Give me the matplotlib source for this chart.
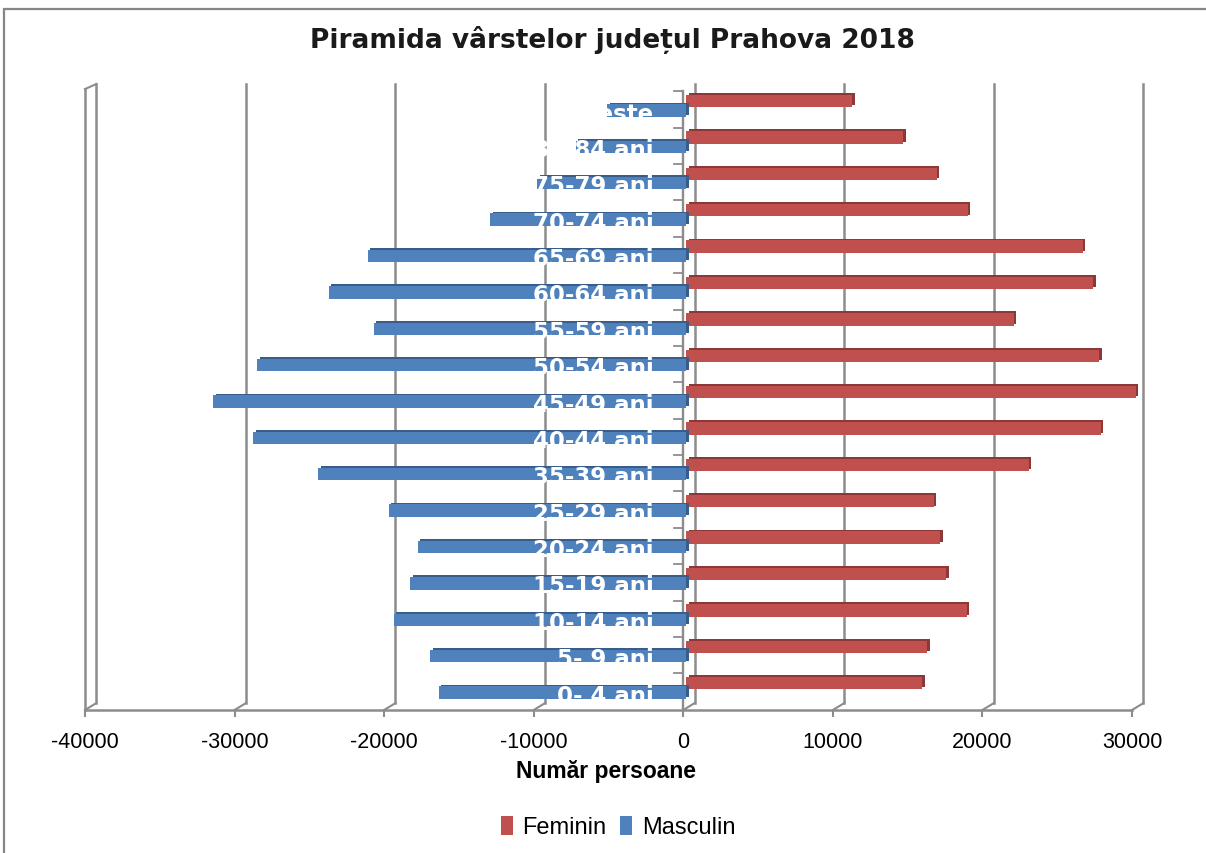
import matplotlib
matplotlib.use("Agg")
import matplotlib.pyplot as plt
from matplotlib.patches import Rectangle, Patch
import numpy as np

# ---- data (bottom to top) ----
categories = ["0- 4 ani", "5- 9 ani", "10-14 ani", "15-19 ani", "20-24 ani", "25-29 ani",
              "35-39 ani", "40-44 ani", "45-49 ani", "50-54 ani", "55-59 ani", "60-64 ani",
              "65-69 ani", "70-74 ani", "75-79 ani", "80-84 ani", "85 și peste"]
feminin = [15780, 16090, 18750, 17380, 16980, 16550, 22900, 27700, 30050, 27600,
           21900, 27200, 26500, 18800, 16750, 14500, 11100]
masculin = [16550, 17130, 19550, 18450, 17950, 19890, 24620, 28950, 31620, 28690,
            20890, 23890, 21290, 13110, 9950, 7400, 5300]
xticks = [-40000, -30000, -20000, -10000, 0, 10000, 20000, 30000]
title = "Piramida vârstelor județul Prahova 2018"
xlabel = "Număr persoane"

RED = "#c0504d"; RED_D = "#8c3836"
BLUE = "#4f81bd"; BLUE_D = "#385d8a"
GRID = "#8c8c8c"

W, H = 1206, 854
fig = plt.figure(figsize=(W / 100, H / 100), dpi=100)
fig.patch.set_facecolor("white")

# outer chart frame
fig.patches.append(Rectangle((4 / W, -0.05), 1.2, (H - 10) / H + 0.05, transform=fig.transFigure,
                             fill=False, edgecolor="#868686", lw=1.6))

ax = fig.add_axes([70 / W, (H - 711) / H, 1080 / W, 626 / H])
ax.set_xlim(-41000, 31200)
ax.set_ylim(-0.61, 16.6)
for s in ax.spines.values():
    s.set_visible(False)
ax.set_yticks([])

# back wall gridlines with 3D floor diagonals
DX = 760      # depth offset in x (style)
Y_BACK = -0.42
Y_FRONT = -0.61
for t in xticks:
    ax.plot([t + DX, t + DX], [Y_BACK, 16.6], color=GRID, lw=1.8, zorder=1, clip_on=False)
    ax.plot([t + DX, t], [Y_BACK, Y_FRONT], color=GRID, lw=1.5, zorder=1, clip_on=False)
# left wall front edge
ax.plot([xticks[0], xticks[0]], [Y_FRONT, 16.46], color=GRID, lw=1.8, zorder=1, clip_on=False)
ax.plot([xticks[0], xticks[0] + DX], [16.46, 16.6], color=GRID, lw=1.5, zorder=1, clip_on=False)

# front axis line + ticks
ax.spines["bottom"].set_visible(True)
ax.spines["bottom"].set_bounds(xticks[0], xticks[-1])
ax.spines["bottom"].set_color(GRID)
ax.spines["bottom"].set_linewidth(1.8)
ax.set_xticks(xticks)
ax.set_xticklabels([str(t) for t in xticks], fontsize=15.5, family="Liberation Sans", color="black")
ax.tick_params(axis="x", direction="out", length=5, width=1.5, color=GRID, pad=10)

# category axis (vertical line at 0) with small ticks
ax.plot([0, 0], [Y_FRONT, 16.42], color=GRID, lw=1.7, zorder=2)
ypos = np.arange(len(categories))
for y in ypos:
    ax.plot([-650, 0], [y + 0.4, y + 0.4], color=GRID, lw=1.3, zorder=2)

SH = 200      # small depth shift of bar faces (style)
BH = 0.34
OFF = 0.13
TOPX = 170
TOPY = 0.05

fem = np.array(feminin, dtype=float)
mas = np.array(masculin, dtype=float)

# red bars: darker top/side face then front face
ax.barh(ypos + OFF + TOPY, fem, left=SH + TOPX, height=BH, color=RED_D, zorder=3)
ax.barh(ypos + OFF, fem, left=SH, height=BH, color=RED, zorder=4)
# blue bars
ax.barh(ypos - OFF + TOPY, -mas, left=SH + TOPX, height=BH, color=BLUE_D, zorder=5)
ax.barh(ypos - OFF, -mas, left=SH, height=BH, color=BLUE, zorder=6)

# category labels (white, over blue bars)
for y, lab in zip(ypos, categories):
    ax.text(-2000, y - OFF - 0.07, lab, ha="right", va="center", color="white",
            fontsize=16.5, fontweight="bold", family="DejaVu Sans", zorder=7)

fig.text(612 / W, 1 - 40 / H, title, ha="center", va="center", fontsize=19,
         fontweight="bold", family="DejaVu Sans", color="#1a1a1a")
fig.text(606 / W, 1 - 772 / H, xlabel, ha="center", va="center", fontsize=16.5,
         fontweight="bold", family="Liberation Sans", color="black")

handles = [Patch(facecolor=RED, edgecolor="none", label="Feminin"),
           Patch(facecolor=BLUE, edgecolor="none", label="Masculin")]
leg = fig.legend(handles=handles, loc="center", bbox_to_anchor=(618 / W, 1 - 828 / H), ncol=2,
                 frameon=False, handlelength=0.5, handleheight=0.85,
                 handletextpad=0.4, columnspacing=0.6, prop={"family": "Liberation Sans", "size": 17})

fig.savefig("out.png", dpi=100)
